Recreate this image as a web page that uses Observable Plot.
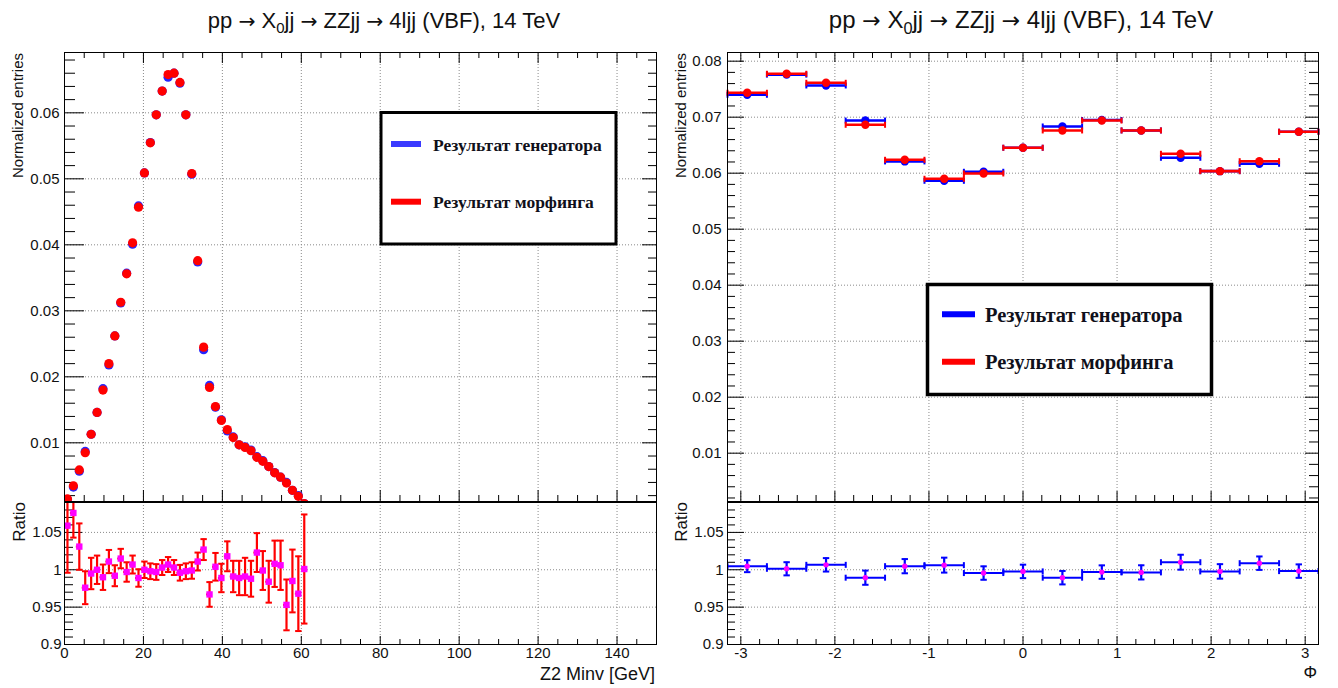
<!DOCTYPE html>
<html><head><meta charset="utf-8">
<script src="https://cdn.jsdelivr.net/npm/d3@7"></script>
<script src="https://cdn.jsdelivr.net/npm/@observablehq/plot@0.6"></script>
<style>
html,body{margin:0;padding:0;background:#fff;}
#root{position:relative;width:1338px;height:688px;overflow:hidden;background:#fff;}
</style></head><body><div id="root"></div>
<script>
// ---------- DATA ----------
const zCenters = [0.75,2.25,3.75,5.25,6.75,8.25,9.75,11.25,12.75,14.25,15.75,17.25,18.75,20.25,21.75,23.25,24.75,26.25,27.75,29.25,30.75,32.25,33.75,35.25,36.75,38.25,39.75,41.25,42.75,44.25,45.75,47.25,48.75,50.25,51.75,53.25,54.75,56.25,57.75,59.25,60.75];
const zHalfWidth = 0.75;
const zGen   = [0.0014,0.0033,0.0057,0.0087,0.0113,0.0146,0.0182,0.0218,0.0262,0.0312,0.0357,0.0401,0.0459,0.0509,0.0555,0.0597,0.0633,0.0654,0.0660,0.0645,0.0597,0.0507,0.0374,0.0241,0.0187,0.0154,0.0135,0.0118,0.0109,0.0097,0.0094,0.0089,0.0079,0.0073,0.0064,0.0055,0.0048,0.0040,0.0028,0.0020,0.0008];
const zMorph = [0.0015,0.0035,0.0059,0.0085,0.0113,0.0146,0.0180,0.0220,0.0262,0.0313,0.0356,0.0403,0.0457,0.0509,0.05545,0.0597,0.0633,0.0658,0.0660,0.0646,0.0597,0.0508,0.0376,0.0245,0.0184,0.0155,0.0134,0.0120,0.0108,0.0097,0.0093,0.0088,0.0078,0.0072,0.0064,0.00545,0.0048,0.0039,0.0028,0.0019,0.0008];
const zRatio = [1.059,1.076,1.031,0.976,0.995,1.000,0.990,1.011,0.992,1.015,0.997,1.007,0.989,1.000,0.998,0.997,1.003,1.007,1.003,0.996,0.998,0.999,1.011,1.027,0.967,1.004,0.989,1.018,0.991,0.989,0.991,0.988,1.023,0.999,0.984,1.008,1.006,0.953,0.985,0.968,1.001];
const zRatioErr = [0.063,0.033,0.031,0.022,0.021,0.019,0.017,0.0155,0.014,0.013,0.013,0.012,0.0117,0.011,0.0105,0.0105,0.010,0.010,0.010,0.0105,0.0105,0.011,0.012,0.014,0.0165,0.0185,0.019,0.020,0.021,0.023,0.025,0.024,0.026,0.026,0.028,0.031,0.033,0.034,0.042,0.050,0.073];

const phiCenters = [-2.932,-2.513,-2.094,-1.676,-1.257,-0.838,-0.419,0,0.419,0.838,1.257,1.676,2.094,2.513,2.932];
const phiHalfWidth = 0.2094;
const phiGen   = [0.0740,0.0776,0.07566,0.0694,0.0621,0.05864,0.06025,0.06454,0.06834,0.0695,0.06763,0.06275,0.06036,0.06168,0.0674];
const phiMorph = [0.07436,0.07775,0.07614,0.06864,0.06239,0.0590,0.05995,0.06454,0.06763,0.0694,0.06763,0.06346,0.06036,0.06214,0.0674];
const phiRatio = [1.0048,1.0013,1.0066,0.9894,1.0048,1.0062,0.9956,0.9978,0.9894,0.9969,0.9965,1.0101,0.9978,1.0088,0.9982];
const phiRatioErr = [0.008,0.0088,0.009,0.0095,0.0095,0.010,0.009,0.009,0.009,0.009,0.0095,0.010,0.0097,0.009,0.009];

// tick labels
const zTicks = [0,20,40,60,80,100,120,140];
const phiTicks = [-3,-2,-1,0,1,2,3];
const yTicksZ = [0.01,0.02,0.03,0.04,0.05,0.06];
const yTicksPhi = [0.01,0.02,0.03,0.04,0.05,0.06,0.07,0.08];
const ratioTicks = [0.9,0.95,1,1.05];

// title pieces: [text, kind] where kind: "t" text, "a" arrow, "s" subscript
const titleParts = [["pp ","t"],["→","a"],[" X","t"],["0","s"],["jj ","t"],["→","a"],[" ZZjj ","t"],["→","a"],[" 4ljj (VBF), 14 TeV","t"]];
const legendLabels = ["Результат генератора","Результат морфинга"];

// ---------- STYLE ----------
const FONT = "'Liberation Sans', Arial, Helvetica, sans-serif";
const SERIF = "'Liberation Serif', 'Times New Roman', serif";
const RED = "#ff0000", MAG = "#ff00ff", BLUE = "#0000ff", BLUE_L = "#2424ff";
const GRID = {stroke: "#8a8a8a", strokeDasharray: "1,2", strokeWidth: 1};

const hCap = {draw(ctx, size){ const w = Math.sqrt(size/Math.PI); ctx.moveTo(-w,0); ctx.lineTo(w,0); }};
const vCap = {draw(ctx, size){ const w = Math.sqrt(size/Math.PI); ctx.moveTo(0,-w); ctx.lineTo(0,w); }};

const zTable = zCenters.map((x,i)=>({x, gen:zGen[i], morph:zMorph[i], ratio:zRatio[i], err:zRatioErr[i]}));
const phiTable = phiCenters.map((x,i)=>({x, gen:phiGen[i], morph:phiMorph[i], ratio:phiRatio[i], err:phiRatioErr[i]}));

const root = document.getElementById("root");
function place(el, left){ el.style.position="absolute"; el.style.left=left+"px"; el.style.top="0px"; root.appendChild(el); }
const inRange = (arr, lo, hi) => arr.filter(v => v > lo + 1e-9 && v < hi - 1e-9);
const step = (a,b,s) => d3.range(Math.round((b-a)/s)+1).map(k => +(a + k*s).toFixed(6));

function frameTicks({fw, fh, xMaj, xMin, yMaj, yMin, xMajL, xMinL, yMajL, yMinL, yMajR, yMinR, top}){
  const m = [];
  const st = {stroke:"#000", strokeWidth:1};
  m.push(Plot.tickX(xMaj, {x:d=>d, insetTop: fh-xMajL, ...st}));
  m.push(Plot.tickX(xMin, {x:d=>d, insetTop: fh-xMinL, ...st}));
  if (top) {
    m.push(Plot.tickX(xMaj, {x:d=>d, insetBottom: fh-xMajL, ...st}));
    m.push(Plot.tickX(xMin, {x:d=>d, insetBottom: fh-xMinL, ...st}));
  }
  m.push(Plot.tickY(yMaj, {y:d=>d, insetRight: fw-yMajL, ...st}));
  m.push(Plot.tickY(yMin, {y:d=>d, insetRight: fw-yMinL, ...st}));
  if (yMajR) {
    m.push(Plot.tickY(yMaj, {y:d=>d, insetLeft: fw-yMajR, ...st}));
    m.push(Plot.tickY(yMin, {y:d=>d, insetLeft: fw-yMinR, ...st}));
  }
  return m;
}
const baseStyle = {background:"transparent", overflow:"visible", fontFamily: FONT, fontSize:"15px", color:"#111"};

// ---------- LEFT TOP ----------
{
  const xd=[0,150], yd=[0.00111,0.06914];
  const fw=592, fh=449;
  const xMin = inRange(step(0,150,5), xd[0], xd[1]).filter(v=>v%20!==0);
  const yMin = inRange(step(0.002,0.068,0.002), yd[0], yd[1]).filter(v=>!yTicksZ.some(t=>Math.abs(t-v)<1e-9));
  const p = Plot.plot({
    width:669, height:688, marginLeft:64, marginRight:13, marginTop:52, marginBottom:187,
    x:{domain:xd, axis:null},
    y:{domain:yd, ticks:yTicksZ, tickSize:0, tickPadding:5, tickFormat:d3.format(".2f"), label:null},
    style: baseStyle,
    marks:[
      Plot.ruleX(inRange(zTicks, xd[0], xd[1]), GRID),
      Plot.ruleY(yTicksZ, GRID),
      ...frameTicks({fw, fh, xMaj: inRange(zTicks,xd[0],xd[1]), xMin, yMaj:yTicksZ, yMin, xMajL:11, xMinL:6, yMajL:20, yMinL:11, yMajR:14, yMinR:8, top:true}),
      Plot.ruleY(zTable, {y:"gen", x1:d=>d.x-zHalfWidth, x2:d=>d.x+zHalfWidth, stroke:BLUE_L, strokeWidth:2, clip:true}),
      Plot.dot(zTable, {x:"x", y:"gen", r:4.6, fill:BLUE_L, clip:true}),
      Plot.ruleY(zTable, {y:"morph", x1:d=>d.x-zHalfWidth, x2:d=>d.x+zHalfWidth, stroke:RED, strokeWidth:2, clip:true}),
      Plot.dot(zTable, {x:"x", y:"morph", r:4.6, fill:RED, clip:true}),
      Plot.frame({stroke:"#000", strokeWidth:1})
    ]
  });
  place(p, 0);
}
// ---------- RATIO PANELS ----------
function ratioPanel(table, xd, hw, xMaj, xMinStep, left, mL, mR, opts){
  const yd=[0.9,1.09];
  const fw = 669-mL-mR, fh=142;
  const xMin = inRange(step(Math.ceil(xd[0]/xMinStep)*xMinStep, xd[1], xMinStep), xd[0], xd[1]).filter(v=>!xMaj.some(t=>Math.abs(t-v)<1e-9));
  const yMin = inRange(step(0.9,1.09,0.01), yd[0], yd[1]).filter(v=>!ratioTicks.some(t=>Math.abs(t-v)<1e-9));
  const lo = d => Math.max(d.ratio-d.err, yd[0]);
  const hi = d => Math.min(d.ratio+d.err, yd[1]);
  const marks = [
    Plot.ruleX(inRange(xMaj, xd[0], xd[1]), GRID),
    Plot.ruleY(inRange(ratioTicks, yd[0], yd[1]), GRID),
    ...frameTicks({fw, fh, xMaj: inRange(xMaj,xd[0],xd[1]), xMin, yMaj:inRange(ratioTicks,yd[0],yd[1]), yMin, xMajL:opts.xMajL, xMinL:opts.xMinL, yMajL:opts.yMajL, yMinL:opts.yMinL, top:false}),
    Plot.ruleY(table, {y:"ratio", x1:d=>d.x-hw, x2:d=>d.x+hw, stroke:opts.bar, strokeWidth:2, clip:true}),
    Plot.ruleX(table, {x:"x", y1:lo, y2:hi, stroke:opts.bar, strokeWidth:2.2}),
    Plot.dot(table.filter(d=>d.ratio+d.err<yd[1]), {x:"x", y:d=>d.ratio+d.err, symbol:hCap, r:3.2, stroke:opts.bar, strokeWidth:2, fill:"none"}),
    Plot.dot(table.filter(d=>d.ratio-d.err>yd[0]), {x:"x", y:d=>d.ratio-d.err, symbol:hCap, r:3.2, stroke:opts.bar, strokeWidth:2, fill:"none"}),
  ];
  if (opts.endCaps) {
    marks.push(Plot.dot(table, {x:d=>d.x-hw, y:"ratio", symbol:vCap, r:3, stroke:opts.bar, strokeWidth:2, fill:"none", clip:true}));
    marks.push(Plot.dot(table, {x:d=>d.x+hw, y:"ratio", symbol:vCap, r:3, stroke:opts.bar, strokeWidth:2, fill:"none", clip:true}));
  }
  marks.push(Plot.dot(table, {x:"x", y:"ratio", symbol:opts.symbol, r:opts.r, fill:MAG, clip:true}));
  marks.push(Plot.frame({stroke:"#000", strokeWidth:1}));
  const p = Plot.plot({
    width:669, height:688, marginLeft:mL, marginRight:mR, marginTop:502, marginBottom:44,
    x:{domain:xd, ticks:xMaj, tickSize:0, tickPadding:3, tickFormat:d=>String(d), label:null},
    y:{domain:yd, ticks:ratioTicks, tickSize:0, tickPadding:opts.yPad, tickFormat:d=>String(d), label:null},
    style: baseStyle,
    marks
  });
  place(p, left);
}
ratioPanel(zTable, [0,150], zHalfWidth, zTicks, 5, 0, 64, 13, {bar:RED, symbol:"square", r:3.6, xMajL:8, xMinL:5, yMajL:18, yMinL:9, yPad:3, endCaps:false});

// ---------- RIGHT TOP ----------
{
  const xd=[-Math.PI, Math.PI], yd=[0.00137,0.08155];
  const fw=591, fh=449;
  const xMin = inRange(step(-3.2,3.2,0.2), xd[0], xd[1]).filter(v=>!phiTicks.some(t=>Math.abs(t-v)<1e-9));
  const yMin = inRange(step(0.002,0.08,0.002), yd[0], yd[1]).filter(v=>!yTicksPhi.some(t=>Math.abs(t-v)<1e-9));
  const hw = phiHalfWidth;
  const series = (key, color) => [
    Plot.ruleY(phiTable, {y:key, x1:d=>d.x-hw, x2:d=>d.x+hw, stroke:color, strokeWidth:2.6}),
    Plot.dot(phiTable, {x:d=>d.x-hw, y:key, symbol:vCap, r:3, stroke:color, strokeWidth:2, fill:"none"}),
    Plot.dot(phiTable, {x:d=>d.x+hw, y:key, symbol:vCap, r:3, stroke:color, strokeWidth:2, fill:"none"}),
    Plot.dot(phiTable, {x:"x", y:key, r:4.2, fill:color})
  ];
  const p = Plot.plot({
    width:669, height:688, marginLeft:58, marginRight:20, marginTop:52, marginBottom:187,
    x:{domain:xd, axis:null},
    y:{domain:yd, ticks:yTicksPhi, tickSize:0, tickPadding:6, tickFormat:d3.format(".2f"), label:null},
    style: baseStyle,
    marks:[
      Plot.ruleX(phiTicks, GRID),
      Plot.ruleY(yTicksPhi, GRID),
      ...frameTicks({fw, fh, xMaj:phiTicks, xMin, yMaj:yTicksPhi, yMin, xMajL:10, xMinL:6, yMajL:17, yMinL:8, yMajR:13, yMinR:9, top:true}),
      ...series("gen", BLUE),
      ...series("morph", RED),
      Plot.frame({stroke:"#000", strokeWidth:1})
    ]
  });
  place(p, 669);
}
ratioPanel(phiTable, [-Math.PI, Math.PI], phiHalfWidth, phiTicks, 0.2, 669, 58, 20, {bar:BLUE, symbol:"circle", r:2.7, xMajL:8, xMinL:5, yMajL:17, yMinL:8, yPad:4, endCaps:true});

// ---------- TEXT & LEGENDS ----------
const svg = d3.select(root).append("svg").attr("width",1338).attr("height",688)
  .style("position","absolute").style("left","0px").style("top","0px").style("font-family",FONT);

function title(cx, fs){
  const t = svg.append("text").attr("x",cx).attr("y",28).attr("text-anchor","middle").attr("font-size",fs).attr("fill","#111");
  let shifted = false;
  titleParts.forEach(([s,k])=>{
    const ts = t.append("tspan").text(s);
    if (k === "s") { ts.attr("dy", fs*0.23).attr("font-size", fs*0.68); shifted = true; }
    else if (shifted) { ts.attr("dy", -fs*0.23); shifted = false; }
    if (k === "a") ts.attr("font-family","'DejaVu Sans', sans-serif").attr("font-size", fs*0.92);
  });
}
title(384, 22); title(1021, 24);

function vlabel(x, yTop, txt, size){
  svg.append("text").attr("transform",`translate(${x},${yTop}) rotate(-90)`).attr("text-anchor","end")
    .attr("font-size",size).attr("fill","#111").text(txt);
}
vlabel(23, 53, "Normalized entries", 15);
vlabel(686, 53, "Normalized entries", 15);
vlabel(25, 502, "Ratio", 17);
vlabel(687, 502, "Ratio", 17);
svg.append("text").attr("x",655).attr("y",680).attr("text-anchor","end").attr("font-size",18).attr("fill","#111").text("Z2 Minv [GeV]");
svg.append("text").attr("x",1317).attr("y",678).attr("text-anchor","end").attr("font-size",17).attr("fill","#111").text("Φ");

function legend(x,y,w,h,bw,lx1,lx2,ly,tx,ty,fs,blue){
  svg.append("rect").attr("x",x).attr("y",y).attr("width",w).attr("height",h).attr("fill","#fff").attr("stroke","#000").attr("stroke-width",bw);
  const colors=[blue, RED];
  legendLabels.forEach((lab,i)=>{
    svg.append("line").attr("x1",lx1).attr("x2",lx2).attr("y1",ly[i]).attr("y2",ly[i]).attr("stroke",colors[i]).attr("stroke-width",6);
    svg.append("text").attr("x",tx).attr("y",ty[i]).attr("font-family",SERIF).attr("font-weight","bold").attr("font-size",fs).attr("fill","#10101a").text(lab);
  });
}
legend(381,112.5,235,131.5,3,391,421,[144,201.7],433,[150.5,208],17.5,"#3a3aff");
legend(927.5,284.5,284,110,3.5,942,975,[314.3,361.7],985,[321.7,368.5],20.5,BLUE);
</script></body></html>
